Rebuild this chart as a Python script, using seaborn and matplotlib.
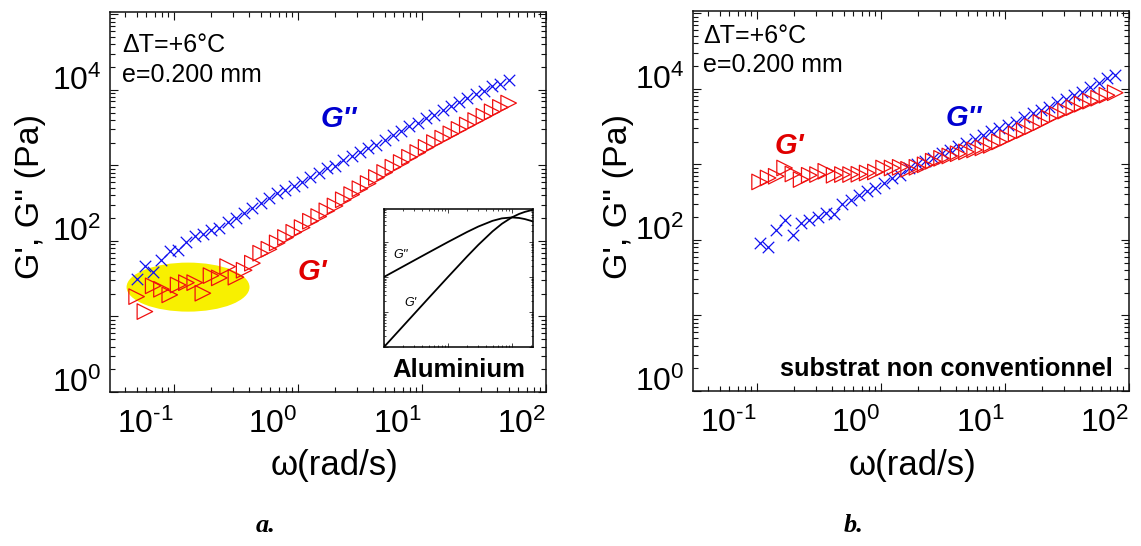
import matplotlib
matplotlib.use('Agg')
import matplotlib.pyplot as plt
from matplotlib.patches import Ellipse
from matplotlib.ticker import LogLocator, NullFormatter
import seaborn as sns

# panel a : frequence (rad/s), G'' et G' (Pa)
omega_a = [0.0500, 0.0583, 0.0680, 0.0793, 0.0925, 0.108, 0.126, 0.147, 0.171, 0.199,
           0.232, 0.271, 0.316, 0.368, 0.429, 0.500, 0.583, 0.680, 0.793, 0.925,
           1.08, 1.26, 1.47, 1.71, 1.99, 2.32, 2.71, 3.16, 3.68, 4.29,
           5.00, 5.83, 6.80, 7.93, 9.25, 10.8, 12.6, 14.7, 17.1, 19.9,
           23.2, 27.1, 31.6, 36.8, 42.9, 50.0]
gpp_a = [31.4, 46.7, 39.2, 56.0, 74.4, 76.0, 97.9, 117, 123, 140,
         147, 177, 200, 235, 274, 319, 368, 436, 474, 540,
         610, 711, 788, 918, 985, 1180, 1310, 1480, 1690, 1870,
         2180, 2540, 2890, 3270, 3620, 4220, 4670, 5320, 6010, 6790,
         7770, 8850, 9700, 11100, 12000, 13300]
gp_a = [18.3, 11.6, 25.4, 22.9, 19.3, 26.1, 28.0, 28.0, 20.3, 34.7,
        32.4, 45.7, 33.1, 40.9, 50.7, 68.7, 77.6, 94.1, 111, 130,
        150, 182, 210, 250, 290, 350, 410, 490, 575, 690,
        805, 945, 1090, 1280, 1480, 1730, 2000, 2290, 2610, 2990,
        3420, 3920, 4470, 5110, 5850, 6670]

# panel b : substrat non conventionnel
omega_b = [0.105, 0.123, 0.143, 0.167, 0.195, 0.227, 0.264, 0.308, 0.359, 0.419,
           0.489, 0.569, 0.664, 0.774, 0.902, 1.05, 1.23, 1.43, 1.67, 1.95,
           2.27, 2.64, 3.08, 3.59, 4.19, 4.89, 5.69, 6.64, 7.74, 9.02,
           10.5, 12.3, 14.3, 16.7, 19.5, 22.7, 26.4, 30.8, 35.9, 41.9,
           48.9, 56.9, 66.4, 77.4]
gpp_b = [92.2, 81.6, 134, 182, 116, 169, 183, 201, 229, 222,
         300, 336, 387, 441, 488, 568, 660, 732, 894, 1010,
         1100, 1210, 1410, 1560, 1760, 1910, 2150, 2410, 2720, 3000,
         3330, 3680, 4280, 4730, 5250, 5800, 6600, 7320, 8260, 9130,
         10600, 12100, 13700, 15400]
gp_b = [585, 660, 695, 894, 746, 629, 717, 732, 809, 717,
        732, 732, 739, 768, 792, 894, 894, 913, 860, 913,
        985, 1100, 1200, 1290, 1380, 1460, 1550, 1650, 1780, 1980,
        2230, 2520, 2800, 3160, 3570, 4090, 4590, 5060, 5620, 6250,
        6850, 7500, 8210, 8860]

# encart aluminium (unites arbitraires)
inset_w = [1, 2, 3, 5, 10, 20, 30, 50, 70, 100, 130, 160, 200, 215]
inset_gp = [1.0, 4.0, 9.0, 25, 99, 385, 826, 2000, 3290, 5000, 6280, 7190, 8000, 8220]
inset_gpp = [100, 200, 300, 499, 990, 1923, 2750, 4000, 4700, 5000, 4830, 4490, 4000, 3820]

xtick_vals = [0.1, 1, 10, 100]
xtick_labels = ['$10^{\\text{-}1}$', '$10^{0}$', '$10^{1}$', '$10^{2}$']
ytick_vals = [1, 10, 100, 1e3, 1e4, 1e5]
ytick_labels = ['$10^{0}$', '', '$10^{2}$', '', '$10^{4}$', '']

BLUE = '#1010f0'
RED = '#f01010'

sns.set_style('ticks')
plt.rcParams['font.family'] = ['Liberation Sans', 'DejaVu Sans']
plt.rcParams['mathtext.fontset'] = 'custom'
plt.rcParams['mathtext.rm'] = 'Liberation Sans'
plt.rcParams['mathtext.it'] = 'Liberation Sans:italic'
plt.rcParams['mathtext.bf'] = 'Liberation Sans:bold'
plt.rcParams['text.color'] = 'black'
plt.rcParams['xtick.labelcolor'] = 'black'
plt.rcParams['ytick.labelcolor'] = 'black'

fig = plt.figure(figsize=(11.41, 5.46), dpi=100)
W, H = 1141, 546
ax_a = fig.add_axes([110 / W, (H - 392) / H, 436 / W, 380 / H])
ax_b = fig.add_axes([693 / W, (H - 391) / H, 436 / W, 380 / H])


def style_axes(ax):
    ax.set_xscale('log')
    ax.set_yscale('log')
    ax.set_xlim(0.0305, 100)
    ax.set_ylim(1, 1.07e5)
    ax.set_xticks(xtick_vals, xtick_labels, ha='right')
    ax.set_yticks(ytick_vals, ytick_labels, va='baseline')
    ax.xaxis.set_minor_locator(LogLocator(base=10, subs=range(2, 10), numticks=30))
    ax.yaxis.set_minor_locator(LogLocator(base=10, subs=range(2, 10), numticks=30))
    ax.xaxis.set_minor_formatter(NullFormatter())
    ax.yaxis.set_minor_formatter(NullFormatter())
    ax.tick_params(which='both', direction='in', top=True, right=True,
                   labelsize=23, width=0.8, color='#111111', labelcolor='black')
    ax.tick_params(which='major', length=6)
    ax.tick_params(which='minor', length=3.5)
    ax.tick_params(axis='x', pad=12)
    ax.tick_params(axis='y', pad=6)
    for sp in ax.spines.values():
        sp.set_linewidth(1.1)
        sp.set_color('#111111')
    ax.grid(False)


for ax in (ax_a, ax_b):
    style_axes(ax)

# --- panel a ---
ax_a.add_patch(Ellipse((0.179, 0.276), 0.282, 0.129, transform=ax_a.transAxes,
                       facecolor='#f8f000', edgecolor='none', zorder=1))
sns.scatterplot(x=omega_a, y=gpp_a, ax=ax_a, marker='x', s=68, color=BLUE,
                linewidth=0.9, legend=False, zorder=3)
sns.scatterplot(x=omega_a, y=gp_a, ax=ax_a, marker='>', s=125, color=RED,
                facecolor='none', edgecolor=RED, linewidth=0.9, legend=False, zorder=3)

ax_a.text(0.0275, 0.895, 'ΔT=+6°C', transform=ax_a.transAxes, fontsize=18, va='baseline')
ax_a.text(0.0275, 0.816, 'e=0.200 mm', transform=ax_a.transAxes, fontsize=18, va='baseline')
ax_a.text(0.525, 0.718, "G''", transform=ax_a.transAxes, fontsize=21, color='#0000d0',
          fontweight='bold', fontstyle='italic', ha='center', va='center')
ax_a.text(0.463, 0.316, "G'", transform=ax_a.transAxes, fontsize=21, color='#e00000',
          fontweight='bold', fontstyle='italic', ha='center', va='center')
ax_a.text(0.80, 0.04, 'Aluminium', transform=ax_a.transAxes, fontsize=18.5,
          fontweight='bold', ha='center', va='baseline')

# encart
ax_in = fig.add_axes([384 / W, (H - 347) / H, 149 / W, 138 / H])
sns.lineplot(x=inset_w, y=inset_gp, ax=ax_in, color='black', linewidth=1.3, sort=False)
sns.lineplot(x=inset_w, y=inset_gpp, ax=ax_in, color='black', linewidth=1.3, sort=False)
ax_in.set_xscale('log')
ax_in.set_yscale('log')
ax_in.set_xlim(1, 215)
ax_in.set_ylim(1, 8700)
ax_in.xaxis.set_major_locator(LogLocator(base=10, numticks=10))
ax_in.yaxis.set_major_locator(LogLocator(base=10, numticks=10))
ax_in.xaxis.set_minor_locator(LogLocator(base=10, subs=range(2, 10), numticks=30))
ax_in.yaxis.set_minor_locator(LogLocator(base=10, subs=range(2, 10), numticks=30))
ax_in.tick_params(which='both', direction='in', top=True, right=True,
                  labelbottom=False, labelleft=False, width=0.6)
ax_in.tick_params(which='major', length=3)
ax_in.tick_params(which='minor', length=1.5)
ax_in.set_xlabel('')
ax_in.set_ylabel('')
for sp in ax_in.spines.values():
    sp.set_linewidth(1.1)
    sp.set_color('black')
ax_in.text(0.11, 0.67, "G''", transform=ax_in.transAxes, fontsize=9, fontstyle='italic',
           ha='center', va='center')
ax_in.text(0.18, 0.32, "G'", transform=ax_in.transAxes, fontsize=9, fontstyle='italic',
           ha='center', va='center')

# --- panel b ---
sns.scatterplot(x=omega_b, y=gpp_b, ax=ax_b, marker='x', s=68, color=BLUE,
                linewidth=0.9, legend=False, zorder=3)
sns.scatterplot(x=omega_b, y=gp_b, ax=ax_b, marker='>', s=125, color=RED,
                facecolor='none', edgecolor=RED, linewidth=0.9, legend=False, zorder=3)

ax_b.text(0.023, 0.916, 'ΔT=+6°C', transform=ax_b.transAxes, fontsize=18, va='baseline')
ax_b.text(0.023, 0.839, 'e=0.200 mm', transform=ax_b.transAxes, fontsize=18, va='baseline')
ax_b.text(0.220, 0.645, "G'", transform=ax_b.transAxes, fontsize=21, color='#e00000',
          fontweight='bold', fontstyle='italic', ha='center', va='center')
ax_b.text(0.622, 0.718, "G''", transform=ax_b.transAxes, fontsize=21, color='#0000d0',
          fontweight='bold', fontstyle='italic', ha='center', va='center')
ax_b.text(0.581, 0.04, 'substrat non conventionnel', transform=ax_b.transAxes,
          fontsize=18.3, fontweight='bold', ha='center', va='baseline')

for ax in (ax_a, ax_b):
    ax.set_xlabel('')
    ax.set_ylabel('')

# axis titles and panel letters
fig.text(31 / W, 1 - 196 / H, "G', G'' (Pa)", rotation=90, fontsize=24.5, ha='center', va='center')
fig.text(619 / W, 1 - 196 / H, "G', G'' (Pa)", rotation=90, fontsize=24.5, ha='center', va='center')
fig.text(334 / W, 1 - 465 / H, 'ω(rad/s)', fontsize=25, ha='center', va='center')
fig.text(913 / W, 1 - 465 / H, 'ω(rad/s)', fontsize=25, ha='center', va='center')
fig.text(266 / W, 1 - 526 / H, 'a.', fontsize=19, family='Liberation Serif',
         fontweight='bold', fontstyle='italic', ha='center', va='center')
fig.text(854 / W, 1 - 526 / H, 'b.', fontsize=19, family='Liberation Serif',
         fontweight='bold', fontstyle='italic', ha='center', va='center')

fig.savefig('out.png', dpi=100)
